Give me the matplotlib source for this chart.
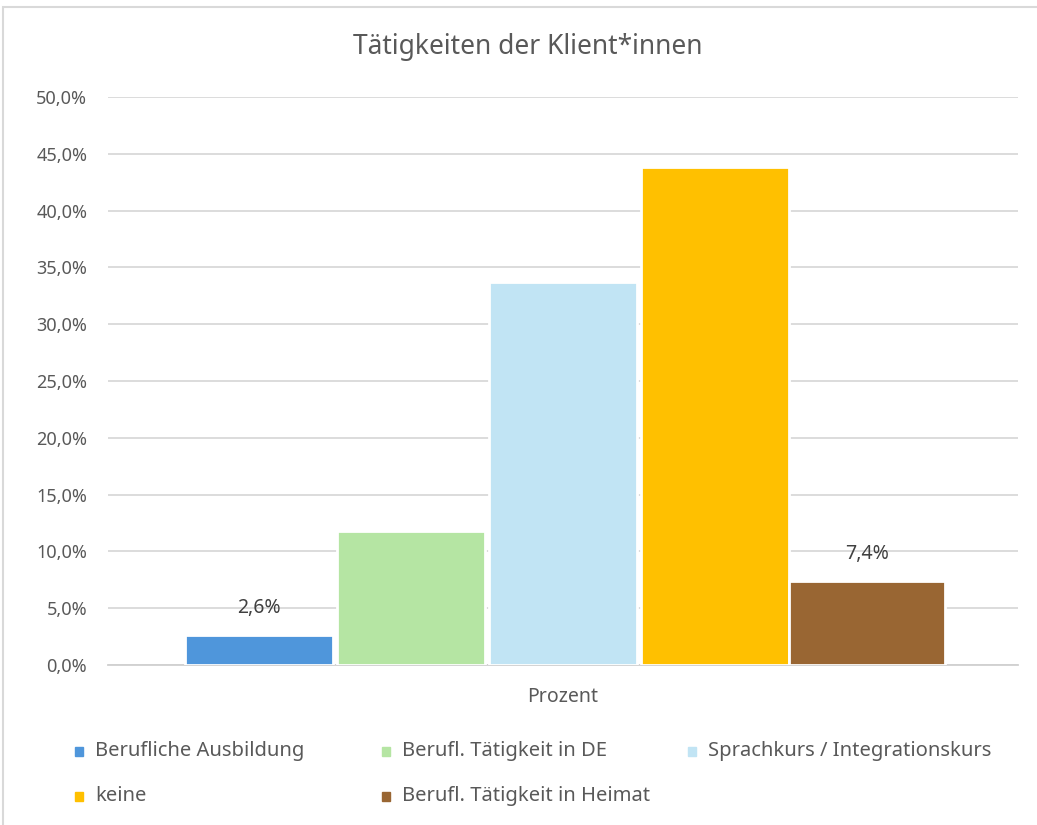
import matplotlib.pyplot as plt
from matplotlib.patches import Rectangle

plt.rcParams['font.family'] = ['Noto Sans', 'DejaVu Sans']

# data
categories = ['Berufliche Ausbildung', 'Berufl. Tätigkeit in DE',
              'Sprachkurs / Integrationskurs', 'keine', 'Berufl. Tätigkeit in Heimat']
values = [2.6, 11.8, 33.7, 43.8, 7.4]
labels = ['2,6%', None, None, None, '7,4%']
colors = ['#4f96db', '#b5e5a3', '#c1e4f4', '#ffc000', '#996633']
group_label = 'Prozent'

W, H = 1037, 825
fig = plt.figure(figsize=(W / 100, H / 100), dpi=100)
ax = fig.add_axes([108 / W, 1 - 665 / H, 910 / W, 568 / H])

# chart border
fig.patches.append(Rectangle((3 / W, -0.01), 1.1, 1 - 7 / H + 0.01, transform=fig.transFigure,
                             fill=False, edgecolor='#d9d9d9', linewidth=1.5))

step = 0.167
width = 0.163
for i, (cat, v, c, lab) in enumerate(zip(categories, values, colors, labels)):
    x = (i - 2) * step
    w = width * 1.05 if i == 4 else width
    ax.bar(x, v, width=w, color=c, edgecolor='white', linewidth=2, zorder=3)
    if lab:
        ax.text(x, v + 1.5, lab, ha='center', va='bottom', fontsize=14, color='#404040')

ax.set_xlim(-0.5, 0.5)
ax.set_ylim(0, 50)
ax.set_yticks(range(0, 51, 5))
ax.set_yticklabels([f'{t},0%' for t in range(0, 51, 5)], fontsize=13, color='#595959')
ax.set_xticks([0])
ax.set_xticklabels([group_label], fontsize=14, color='#595959')
ax.tick_params(axis='y', length=0, pad=15)
ax.tick_params(axis='x', length=0, pad=16)
ax.grid(axis='y', color='#d9d9d9', linewidth=1.3, zorder=0)
for s in ['top', 'right', 'left']:
    ax.spines[s].set_visible(False)
ax.spines['bottom'].set_color('#d0d0d0')
ax.spines['bottom'].set_linewidth(1.3)

fig.text(528 / W, 1 - 47 / H, 'Tätigkeiten der Klient*innen', ha='center', va='center',
         fontsize=19, color='#595959')

# legend
leg_pos = [(79, 751), (386, 751), (692, 751), (79, 796), (386, 796)]
for (px, py), cat, c in zip(leg_pos, categories, colors):
    fig.patches.append(Rectangle(((px - 4) / W, 1 - (py + 5) / H), 8 / W, 9 / H,
                                 transform=fig.transFigure, color=c))
    fig.text((px + 16) / W, 1 - py / H, cat, ha='left', va='center',
             fontsize=14.5, color='#595959')

fig.savefig('out.png', dpi=100)
